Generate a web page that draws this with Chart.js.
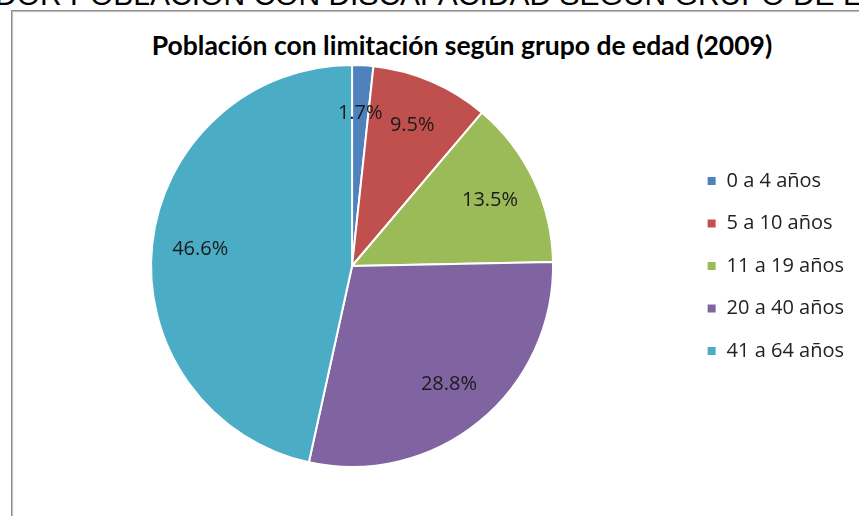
<!DOCTYPE html>
<html lang="es">
<head>
    <meta charset="UTF-8" />
    <title>Población con limitación según grupo de edad (2009)</title>
    <script src="https://cdn.jsdelivr.net/npm/chart.js"></script>
    <style>
        html, body { margin: 0; padding: 0; background: #fff; overflow: hidden; }
        body { width: 859px; height: 516px; position: relative; font-family: 'Open Sans', sans-serif; }
        .heading { position: absolute; left: -5px; top: -22px; font-family: 'Liberation Sans', Arial, sans-serif; font-size: 30px; color: #000; white-space: nowrap; }
        .frame { position: absolute; left: 11px; top: 10px; width: 1000px; height: 700px; border: 1px solid #8c8c8c; box-shadow: 1px 1px 1px #bbb inset; }
        .title { position: absolute; left: 0; width: 924px; top: 29px; text-align: center; font-family: 'Lato', sans-serif; font-weight: bold; font-size: 26.5px; line-height: 32px; color: #000; }
        .wrap { position: absolute; left: 0; top: 0; width: 854px; height: 516px; }
    </style>
</head>
<body>
<div class="heading">DOR POBLACIÓN CON DISCAPACIDAD SEGÚN GRUPO DE EDAD</div>
<div class="frame"></div>
<div class="title">Población con limitación según grupo de edad (2009)</div>
<div class="wrap"><canvas id="pieChart"></canvas></div>
<script>
    // datos
    const categories = ['0 a 4 años', '5 a 10 años', '11 a 19 años', '20 a 40 años', '41 a 64 años'];
    const percentages = [1.7, 9.5, 13.5, 28.8, 46.6];
    const colors = ['#4F81BD', '#C0504D', '#9BBB59', '#8064A2', '#4BACC6'];

    // etiquetas de porcentaje dentro de cada sector
    const sliceLabels = {
        id: 'sliceLabels',
        afterDatasetsDraw(chart) {
            const ctx = chart.ctx;
            const meta = chart.getDatasetMeta(0);
            ctx.save();
            ctx.font = '20px "Open Sans"';
            ctx.fillStyle = '#1a1a1a';
            ctx.textAlign = 'center';
            ctx.textBaseline = 'middle';
            meta.data.forEach(function (arc, i) {
                const p = arc.getProps(['x', 'y', 'startAngle', 'endAngle', 'outerRadius'], true);
                const mid = (p.startAngle + p.endAngle) / 2;
                const r = p.outerRadius * 0.76;
                ctx.fillText(percentages[i].toFixed(1) + '%', p.x + Math.cos(mid) * r, p.y + Math.sin(mid) * r);
            });
            ctx.restore();
        }
    };

    new Chart(document.getElementById('pieChart').getContext('2d'), {
        type: 'pie',
        data: {
            labels: categories,
            datasets: [{
                data: percentages,
                backgroundColor: colors,
                borderColor: '#ffffff',
                borderWidth: 2
            }]
        },
        options: {
            responsive: true,
            maintainAspectRatio: false,
            animation: false,
            layout: { padding: { left: 20, right: 0, top: 64, bottom: 48 } },
            plugins: {
                title: { display: false },
                tooltip: { enabled: false },
                legend: {
                    position: 'right',
                    labels: {
                        boxWidth: 10,
                        boxHeight: 10,
                        padding: 22.5,
                        color: '#222',
                        font: { family: 'Open Sans', size: 20 }
                    }
                }
            }
        },
        plugins: [sliceLabels]
    });
</script>
</body>
</html>
